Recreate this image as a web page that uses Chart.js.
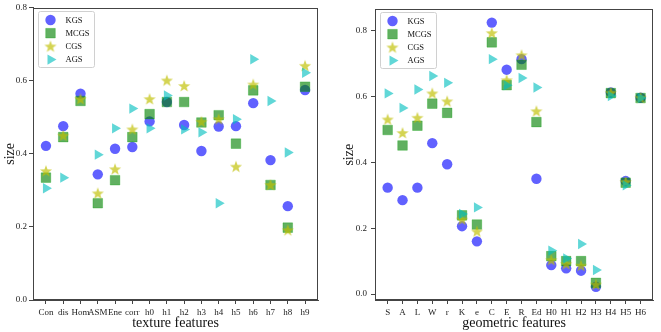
<!DOCTYPE html>
<html>
<head>
<meta charset="utf-8">
<script src="https://cdn.jsdelivr.net/npm/chart.js@4.4.1/dist/chart.umd.min.js"></script>
<style>
html, body { margin: 0; padding: 0; background: #fff; }
#wrap { position: relative; width: 661px; height: 332px; }
canvas { position: absolute; top: 0; }
</style>
</head>
<body>
<div id="wrap">
  <canvas id="left" width="330" height="332" style="left:0"></canvas>
  <canvas id="right" width="331" height="332" style="left:330px"></canvas>
</div>
<script>
// values
var texFeatures = ['Con', 'dis', 'Hom', 'ASM', 'Ene', 'corr', 'h0', 'h1', 'h2', 'h3', 'h4', 'h5', 'h6', 'h7', 'h8', 'h9'];
var texKGS  = [0.422, 0.476, 0.565, 0.344, 0.414, 0.419, 0.489, 0.542, 0.479, 0.408, 0.475, 0.476, 0.539, 0.383, 0.257, 0.575];
var texMCGS = [0.335, 0.446, 0.545, 0.265, 0.328, 0.446, 0.509, 0.542, 0.542, 0.486, 0.506, 0.428, 0.574, 0.315, 0.198, 0.584];
var texCGS  = [0.353, 0.450, 0.550, 0.292, 0.358, 0.467, 0.550, 0.601, 0.586, 0.488, 0.495, 0.365, 0.590, 0.315, 0.191, 0.641];
var texAGS  = [0.306, 0.335, null, 0.398, 0.470, 0.524, 0.470, 0.560, 0.467, 0.459, 0.265, 0.495, 0.659, 0.545, 0.404, 0.622];

var geoFeatures = ['S', 'A', 'L', 'W', 'r', 'K', 'e', 'C', 'E', 'R', 'Ed', 'H0', 'H1', 'H2', 'H3', 'H4', 'H5', 'H6'];
var geoKGS  = [0.323, 0.285, 0.323, 0.458, 0.394, 0.206, 0.160, 0.824, 0.681, 0.713, 0.350, 0.088, 0.078, 0.071, 0.022, 0.612, 0.343, 0.596];
var geoMCGS = [0.498, 0.451, 0.511, 0.578, 0.550, 0.239, 0.211, 0.764, 0.634, 0.696, 0.522, 0.115, 0.100, 0.100, 0.034, 0.610, 0.338, 0.595];
var geoCGS  = [0.530, 0.489, 0.535, 0.609, 0.585, 0.226, 0.190, 0.792, 0.649, 0.725, 0.555, 0.103, 0.091, 0.086, 0.029, 0.611, 0.340, 0.596];
var geoAGS  = [0.609, 0.565, 0.621, 0.662, 0.641, 0.243, 0.263, 0.713, 0.634, 0.656, 0.627, 0.132, 0.108, 0.152, 0.073, 0.601, 0.330, 0.595];

var seriesNames = ['KGS', 'MCGS', 'CGS', 'AGS'];
var yTicks = [0, 0.2, 0.4, 0.6, 0.8];

var serif = "'Liberation Serif', 'Times New Roman', serif";

// filled five point star, chart.js only has a line star
function makeStar() {
  var c = document.createElement('canvas');
  c.width = 14; c.height = 14;
  var ctx = c.getContext('2d');
  ctx.beginPath();
  for (var i = 0; i < 10; i++) {
    var r = i % 2 ? 2.6 : 6.4;
    var a = -Math.PI / 2 + i * Math.PI / 5;
    var px = 7 + r * Math.cos(a), py = 7.4 + r * Math.sin(a);
    if (i == 0) ctx.moveTo(px, py); else ctx.lineTo(px, py);
  }
  ctx.closePath();
  ctx.fillStyle = 'rgba(191,191,0,0.68)';
  ctx.fill();
  return c;
}
var star = makeStar();

var styles = [
  { pointStyle: 'circle', pointRadius: 5.2, pointRotation: 0, backgroundColor: 'rgba(0,0,255,0.62)', borderColor: 'rgba(0,0,255,0)', borderWidth: 0 },
  { pointStyle: 'rect', pointRadius: 6.8, pointRotation: 0, backgroundColor: 'rgba(0,128,0,0.62)', borderColor: 'rgba(0,160,0,0.3)', borderWidth: 1 },
  { pointStyle: star, pointRadius: 6, pointRotation: 0, backgroundColor: 'rgba(191,191,0,0.68)', borderColor: 'rgba(0,0,0,0)', borderWidth: 0 },
  { pointStyle: 'triangle', pointRadius: 6, pointRotation: 90, backgroundColor: 'rgba(0,191,191,0.62)', borderColor: 'rgba(0,0,0,0)', borderWidth: 0 }
];

function buildSets(series) {
  return series.map(function (vals, k) {
    var pts = [];
    for (var i = 0; i < vals.length; i++) {
      if (vals[i] != null) pts.push({ x: i, y: vals[i] });
    }
    var s = styles[k];
    return {
      label: seriesNames[k],
      data: pts,
      order: 4 - k,
      pointStyle: s.pointStyle,
      pointRadius: s.pointRadius,
      pointRotation: s.pointRotation,
      backgroundColor: s.backgroundColor,
      borderColor: s.borderColor,
      borderWidth: s.borderWidth
    };
  });
}

var framePlugin = {
  id: 'frame',
  afterDraw: function (chart) {
    var a = chart.chartArea, ctx = chart.ctx;
    ctx.save();
    ctx.strokeStyle = '#444';
    ctx.lineWidth = 1;
    ctx.strokeRect(Math.round(a.left) + 0.5, Math.round(a.top) + 0.5, Math.round(a.right - a.left) - 1, Math.round(a.bottom - a.top) - 1);
    ctx.restore();
  }
};

var legendPlugin = {
  id: 'boxLegend',
  afterDraw: function (chart) {
    var a = chart.chartArea, ctx = chart.ctx;
    var x0 = Math.round(a.left) + 5.5, y0 = Math.round(a.top) + 3.5, w = 56, h = 56;
    ctx.save();
    ctx.fillStyle = 'rgba(255,255,255,0.85)';
    ctx.strokeStyle = '#d0d0d0';
    ctx.lineWidth = 1;
    ctx.beginPath();
    ctx.roundRect(x0, y0, w, h, 2);
    ctx.fill();
    ctx.stroke();
    chart.data.datasets.forEach(function (ds, k) {
      var cy = y0 + 8.5 + k * 13.2;
      var cx = x0 + 12;
      ctx.fillStyle = ds.backgroundColor;
      ctx.strokeStyle = ds.borderColor;
      Chart.helpers.drawPoint(ctx, {
        pointStyle: ds.pointStyle, radius: ds.pointRadius, rotation: ds.pointRotation, borderWidth: ds.borderWidth
      }, cx, cy);
      ctx.fillStyle = '#111';
      ctx.font = '8.5px ' + serif;
      ctx.textBaseline = 'middle';
      ctx.textAlign = 'left';
      ctx.fillText(ds.label, x0 + 27, cy + 0.5);
    });
    ctx.restore();
  }
};

function makeChart(id, o) {
  return new Chart(document.getElementById(id).getContext('2d'), {
    type: 'scatter',
    data: { datasets: buildSets(o.series) },
    options: {
      responsive: false,
      animation: false,
      layout: { padding: { left: 0, right: o.padRight, top: o.padTop, bottom: 0 } },
      plugins: { legend: { display: false }, tooltip: { enabled: false } },
      scales: {
        x: {
          type: 'linear',
          min: o.xmin,
          max: o.xmax,
          afterBuildTicks: function (s) { s.ticks = o.labels.map(function (_, i) { return { value: i }; }); },
          afterFit: function (s) { s.height = 32; },
          ticks: {
            autoSkip: false, maxRotation: 0, padding: 3, color: '#222',
            font: { family: serif, size: 9 },
            callback: function (v) { return o.labels[v]; }
          },
          grid: { drawOnChartArea: false, tickLength: 4, color: '#444' },
          border: { color: '#444' },
          title: { display: true, text: o.xTitle, color: '#111', font: { family: serif, size: 14 }, padding: { top: 0, bottom: 0 } }
        },
        y: {
          min: o.ymin,
          max: o.ymax,
          afterBuildTicks: function (s) { s.ticks = yTicks.map(function (v) { return { value: v }; }); },
          afterFit: function (s) { s.width = o.yWidth; },
          ticks: {
            padding: o.yPad, color: '#222',
            font: { family: serif, size: 9 },
            callback: function (v) { return v.toFixed(1); }
          },
          grid: { drawOnChartArea: false, tickLength: 4, color: '#444' },
          border: { color: '#444' },
          title: { display: true, text: 'size', color: '#111', font: { family: serif, size: 14 }, padding: { top: o.yTitlePad, bottom: 0 } }
        }
      }
    },
    plugins: [framePlugin, legendPlugin]
  });
}

makeChart('left', {
  series: [texKGS, texMCGS, texCGS, texAGS],
  labels: texFeatures,
  xTitle: 'texture features',
  xmin: -0.75, xmax: 15.75,
  ymin: 0, ymax: 0.8,
  yWidth: 33, yPad: 2, yTitlePad: 1.5,
  padRight: 12, padTop: 4
});

makeChart('right', {
  series: [geoKGS, geoMCGS, geoCGS, geoAGS],
  labels: geoFeatures,
  xTitle: 'geometric features',
  xmin: -0.85, xmax: 17.85,
  ymin: -0.018, ymax: 0.864,
  yWidth: 45, yPad: 4, yTitlePad: 10.5,
  padRight: 6, padTop: 3
});
</script>
</body>
</html>
